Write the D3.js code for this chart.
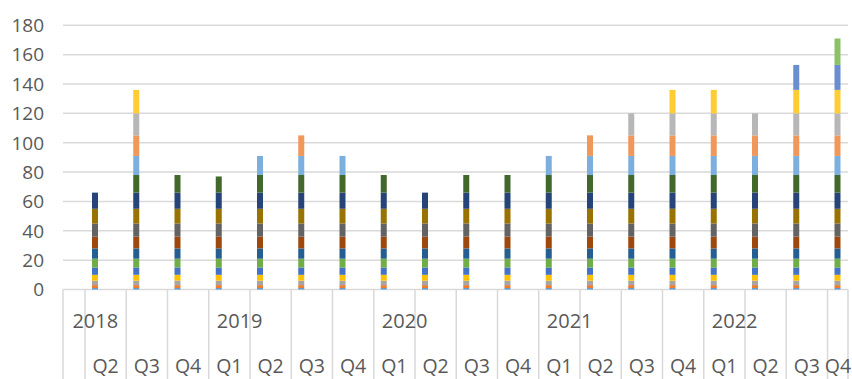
<!DOCTYPE html>
<html>
<head>
<meta charset="utf-8">
<script src="https://cdn.jsdelivr.net/npm/d3@7"></script>
<style>
  html, body { margin: 0; padding: 0; background: #fff; }
  svg { display: block; }
  text { font-family: "Open Sans", "Noto Sans", sans-serif; fill: #595959; }
</style>
</head>
<body>
<svg id="chart" width="852" height="379"></svg>
<script>
// ---- data ----
const quarters = ["Q2","Q3","Q4","Q1","Q2","Q3","Q4","Q1","Q2","Q3","Q4","Q1","Q2","Q3","Q4","Q1","Q2","Q3","Q4"];
const years = ["2018","2019","2020","2021","2022"];
const yearSizes = [3, 4, 4, 4, 4];
const yTicks = [0, 20, 40, 60, 80, 100, 120, 140, 160, 180];

const s1  = [1,1,1,1,1,1,1,1,1,1,1,1,1,1,1,1,1,1,1];
const s2  = [2,2,2,2,2,2,2,2,2,2,2,2,2,2,2,2,2,2,2];
const s3  = [3,3,3,3,3,3,3,3,3,3,3,3,3,3,3,3,3,3,3];
const s4  = [4,4,4,4,4,4,4,4,4,4,4,4,4,4,4,4,4,4,4];
const s5  = [5,5,5,5,5,5,5,5,5,5,5,5,5,5,5,5,5,5,5];
const s6  = [6,6,6,6,6,6,6,6,6,6,6,6,6,6,6,6,6,6,6];
const s7  = [7,7,7,7,7,7,7,7,7,7,7,7,7,7,7,7,7,7,7];
const s8  = [8,8,8,8,8,8,8,8,8,8,8,8,8,8,8,8,8,8,8];
const s9  = [9,9,9,9,9,9,9,9,9,9,9,9,9,9,9,9,9,9,9];
const s10 = [10,10,10,10,10,10,10,10,10,10,10,10,10,10,10,10,10,10,10];
const s11 = [11,11,11,11,11,11,11,11,11,11,11,11,11,11,11,11,11,11,11];
const s12 = [0,12,12,11,12,12,12,12,0,12,12,12,12,12,12,12,12,12,12];
const s13 = [0,13,0,0,13,13,13,0,0,0,0,13,13,13,13,13,13,13,13];
const s14 = [0,14,0,0,0,14,0,0,0,0,0,0,14,14,14,14,14,14,14];
const s15 = [0,15,0,0,0,0,0,0,0,0,0,0,0,15,15,15,15,15,15];
const s16 = [0,16,0,0,0,0,0,0,0,0,0,0,0,0,16,16,0,16,16];
const s17 = [0,0,0,0,0,0,0,0,0,0,0,0,0,0,0,0,0,17,17];
const s18 = [0,0,0,0,0,0,0,0,0,0,0,0,0,0,0,0,0,0,18];

const seriesList = [s1,s2,s3,s4,s5,s6,s7,s8,s9,s10,s11,s12,s13,s14,s15,s16,s17,s18];
const colors = ["#5B9BD5","#ED7D31","#A5A5A5","#FFC000","#4472C4","#70AD47",
                "#255E91","#9E480E","#636363","#997300","#264478","#43682B",
                "#7CAFDD","#F1975A","#B7B7B7","#FFCD33","#698ED0","#8CC168"];

// ---- build table ----
const keys = seriesList.map((_, k) => "s" + (k + 1));
const table = quarters.map((q, i) => {
  const row = { idx: i };
  seriesList.forEach((s, k) => { row[keys[k]] = s[i]; });
  return row;
});

const svg = d3.select("#chart");
const plotLeft = 63, plotRight = 848, bandStart = 85, step = 41.25;

const x = d3.scaleBand()
  .domain(d3.range(quarters.length))
  .range([bandStart, bandStart + step * quarters.length])
  .padding(0);
const y = d3.scaleLinear().domain([0, 180]).range([289.5, 25.3]);

// gridlines
svg.append("g").selectAll("line").data(yTicks).join("line")
  .attr("x1", plotLeft).attr("x2", plotRight)
  .attr("y1", d => y(d)).attr("y2", d => y(d))
  .attr("stroke", "#d9d9d9").attr("stroke-width", 1.5);

// y labels
svg.append("g").selectAll("text").data(yTicks).join("text")
  .attr("x", 44).attr("y", d => y(d))
  .attr("dy", "0.36em")
  .attr("text-anchor", "end")
  .style("font-size", "19px")
  .text(d => d);

// stacked bars
const stack = d3.stack().keys(keys)(table);
const barW = 6;
svg.append("g").selectAll("g").data(stack).join("g")
  .attr("fill", (d, k) => colors[k])
  .selectAll("rect").data(d => d.filter(p => p[1] - p[0] > 0)).join("rect")
  .attr("x", p => x(p.data.idx) + 10 - barW / 2)
  .attr("width", barW)
  .attr("y", p => y(p[1]))
  .attr("height", p => y(p[0]) - y(p[1]));

// category axis separators
const sepX = [plotLeft].concat(d3.range(quarters.length).map(i => x(i))).concat([plotRight]);
svg.append("g").selectAll("line").data(sepX).join("line")
  .attr("x1", d => d).attr("x2", d => d)
  .attr("y1", 289.5).attr("y2", 379)
  .attr("stroke", "#d9d9d9").attr("stroke-width", 1.5);

// quarter labels
svg.append("g").selectAll("text").data(quarters).join("text")
  .attr("x", (q, i) => Math.min(x(i) + x.bandwidth() / 2, 838))
  .attr("y", 373)
  .attr("text-anchor", "middle")
  .style("font-size", "19.5px")
  .text(q => q);

// year labels
let start = 0;
const yearPos = years.map((yr, j) => {
  const s = start, e = start + yearSizes[j];
  start = e;
  const center = (x(s) + x(e - 1) + x.bandwidth()) / 2;
  return { yr, cx: center - 1.25 * x.bandwidth() };
});
svg.append("g").selectAll("text").data(yearPos).join("text")
  .attr("x", d => d.cx).attr("y", 328)
  .attr("text-anchor", "middle")
  .style("font-size", "20px")
  .text(d => d.yr);
</script>
</body>
</html>
